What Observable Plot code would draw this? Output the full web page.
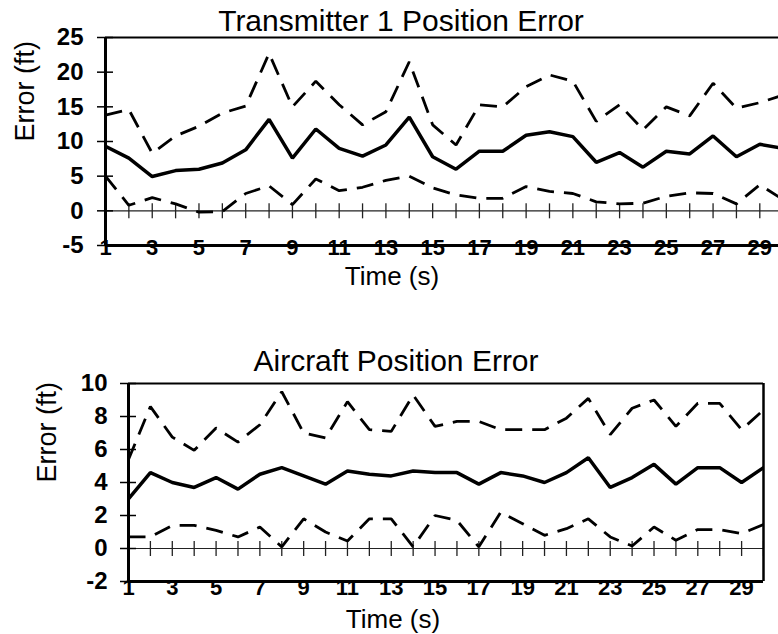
<!DOCTYPE html>
<html>
<head>
<meta charset="utf-8">
<script src="https://cdn.jsdelivr.net/npm/d3@7"></script>
<script src="https://cdn.jsdelivr.net/npm/@observablehq/plot@0.6"></script>
<style>
  html, body { margin: 0; padding: 0; background: #fff; overflow: hidden; }
  #chart svg { display: block; }
</style>
</head>
<body>
<div id="chart"></div>
<script>
// ---- data ----
const time = [1,2,3,4,5,6,7,8,9,10,11,12,13,14,15,16,17,18,19,20,21,22,23,24,25,26,27,28,29,30];
const xLabels = [1,3,5,7,9,11,13,15,17,19,21,23,25,27,29];
const txTicks = [-5,0,5,10,15,20,25];
const acTicks = [-2,0,2,4,6,8,10];

const txMean  = [9.3,7.6,4.95,5.8,6.0,6.9,8.8,13.2,7.6,11.8,9.0,7.9,9.5,13.5,7.8,6.0,8.6,8.6,10.9,11.4,10.7,7.0,8.4,6.3,8.6,8.2,10.8,7.8,9.6,9.0];
const txUpper = [13.8,14.6,8.3,10.8,12.2,14.1,15.1,22.7,15.0,18.7,15.3,12.4,14.3,21.5,12.4,9.5,15.3,15.0,17.9,19.6,18.7,12.9,15.3,11.7,15.0,13.7,18.4,14.8,15.6,16.7];
const txLower = [5.0,0.8,1.9,1.0,-0.2,-0.1,2.5,3.6,0.9,4.6,2.9,3.4,4.4,5.0,3.3,2.3,1.8,1.8,3.5,2.8,2.5,1.3,1.0,1.1,2.1,2.6,2.5,1.0,3.75,1.6];

const acMean  = [3.0,4.6,4.0,3.7,4.3,3.6,4.5,4.9,4.4,3.9,4.7,4.5,4.4,4.7,4.6,4.6,3.9,4.6,4.4,4.0,4.6,5.5,3.7,4.3,5.1,3.9,4.9,4.9,4.0,4.9];
const acUpper = [5.4,8.6,6.75,5.95,7.3,6.45,7.5,9.5,7.0,6.7,8.9,7.2,7.1,9.3,7.4,7.7,7.7,7.2,7.2,7.2,7.9,9.1,6.9,8.5,9.0,7.4,8.8,8.8,7.2,8.4];
const acLower = [0.7,0.7,1.4,1.4,1.1,0.7,1.3,0.1,1.8,1.0,0.45,1.8,1.8,0.1,2.0,1.7,0.1,2.2,1.5,0.8,1.2,1.8,0.7,0.15,1.3,0.5,1.15,1.15,0.9,1.45];

const titles = ["Transmitter 1 Position Error", "Aircraft Position Error"];
const xTitle = "Time (s)";
const yTitle = "Error (ft)";

// ---- drawing ----
const FONT = "'Liberation Sans', Arial, Helvetica, sans-serif";
const rows = (vals) => time.map((t, i) => ({t, v: vals[i]}));

function chart(o) {
  const x0 = o.xDomain[0];
  const dashed = {x: "t", y: "v", stroke: "#000", strokeWidth: 2.8, strokeDasharray: "17,10",
                  strokeLinecap: "butt", strokeLinejoin: "miter", clip: true};
  const marks = [
    // zero line with crossing ticks
    Plot.ruleY([0], {stroke: "#222", strokeWidth: 1.2}),
    Plot.ruleX(time, {x: d => d, y1: 0, y2: 0, insetTop: -7, insetBottom: -8, stroke: "#222", strokeWidth: 1.3, clip: true}),
    // y ticks crossing the left axis
    Plot.ruleY(o.yTicks, {y: d => d, x1: x0, x2: x0, insetLeft: -8, insetRight: -8, stroke: "#000", strokeWidth: 1.5}),
    // frame
    Plot.ruleY([o.yDomain[1]], {stroke: "#000", strokeWidth: 2}),
    Plot.ruleY([o.yDomain[0]], {stroke: "#000", strokeWidth: 3}),
    Plot.ruleX([x0], {stroke: "#000", strokeWidth: 3}),
    // series
    Plot.line(rows(o.upper), dashed),
    Plot.line(rows(o.lower), dashed),
    Plot.line(rows(o.mean), {x: "t", y: "v", stroke: "#000", strokeWidth: 3.5, strokeLinejoin: "miter", clip: true}),
    // tick labels
    Plot.text(o.yTicks, {y: d => d, text: d => String(d), frameAnchor: "left", textAnchor: "end",
                         dx: o.yLabDx, fontSize: 24, fontWeight: "bold", fill: "#000"}),
    Plot.text(xLabels, {x: d => d, text: d => String(d), frameAnchor: "bottom", lineAnchor: "bottom",
                        dy: o.xLabDy, fontSize: 22, fontWeight: "bold", fill: "#000"}),
    // titles
    Plot.text([o.title], {text: d => d, frameAnchor: "top", lineAnchor: "bottom", dx: o.titleDx, dy: o.titleDy,
                          fontSize: 30, fill: "#000"}),
    Plot.text([xTitle], {text: d => d, frameAnchor: "bottom", lineAnchor: "bottom", dx: o.timeDx, dy: o.timeDy,
                         fontSize: 26, fill: "#000"}),
    Plot.text([yTitle], {text: d => d, frameAnchor: "left", lineAnchor: "bottom", rotate: -90, dx: o.errDx,
                         fontSize: 27, fill: "#000"})
  ];
  if (o.rightBorder) marks.push(Plot.ruleX([o.xDomain[1]], {stroke: "#000", strokeWidth: 2.5}));
  return Plot.plot({
    width: 778, height: o.height,
    marginTop: o.mt, marginBottom: o.mb, marginLeft: o.ml, marginRight: o.mr,
    x: {domain: o.xDomain, axis: null},
    y: {domain: o.yDomain, axis: null},
    style: {fontFamily: FONT, background: "#fff", color: "#000", overflow: "hidden"},
    marks
  });
}

const root = document.getElementById("chart");
root.append(chart({
  title: titles[0], mean: txMean, upper: txUpper, lower: txLower,
  yTicks: txTicks, yDomain: [-5, 25], xDomain: [1, 29.8],
  height: 300, mt: 37, mb: 55, ml: 105, mr: 0,
  yLabDx: -22, xLabDy: 9, titleDx: -41, titleDy: -7, timeDx: -50, timeDy: 39, errDx: -72,
  rightBorder: false
}));
root.append(chart({
  title: titles[1], mean: acMean, upper: acUpper, lower: acLower,
  yTicks: acTicks, yDomain: [-2, 10], xDomain: [1, 30],
  height: 334, mt: 83, mb: 53, ml: 128, mr: 15,
  yLabDx: -21, xLabDy: 13, titleDx: -50, titleDy: -13, timeDx: -53, timeDy: 46, errDx: -73,
  rightBorder: true
}));
</script>
</body>
</html>
